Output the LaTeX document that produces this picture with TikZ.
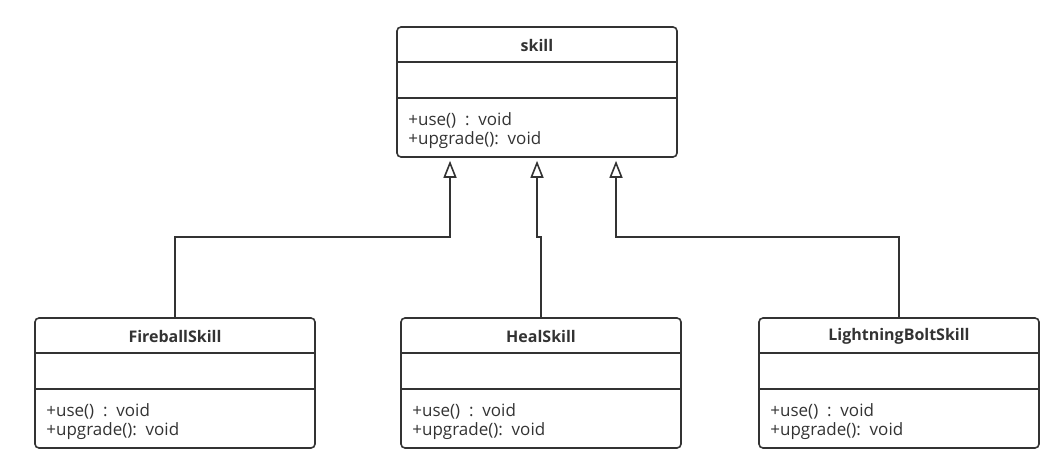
\documentclass[tikz,border=0pt]{standalone}
\usepackage{fontspec}
\setmainfont{Open Sans}
\usetikzlibrary{arrows.meta}
\definecolor{umlline}{HTML}{333333}
\tikzset{
  classbox/.style={draw=umlline, line width=1.6pt, rounded corners=4pt, minimum width=280pt, minimum height=130pt, inner sep=0pt},
  classname/.style={font=\fontsize{16}{18}\selectfont\bfseries, text=umlline},
  member/.style={font=\fontsize{17}{19.5}\selectfont, text=umlline, align=left, anchor=north west, inner sep=0pt},
  inherit/.style={draw=umlline, line width=1.6pt, -{Triangle[open, width=13pt, length=17pt]}, shorten >=3pt}
}
\newcommand{\umlclass}[3]{%
  \node[classbox] (#1) at (#2) {};
  \node[classname] (#1name) at ([yshift=-19pt]#1.north) {#3};
  \draw[umlline, line width=1.6pt] ([yshift=-36pt]#1.north west) -- ([yshift=-36pt]#1.north east);
  \draw[umlline, line width=1.6pt] ([yshift=-72pt]#1.north west) -- ([yshift=-72pt]#1.north east);
  \node[member] (#1ops) at ([xshift=12pt,yshift=-86pt]#1.north west) {+use()\ \ :\ \ void\\+upgrade():\ \ void};
}
\begin{document}
\begin{tikzpicture}[x=1pt, y=-1pt]
  \useasboundingbox (0,0) rectangle (1062,473);
  % base class
  \umlclass{skill}{537,92}{skill}
  % subclasses
  \umlclass{fireball}{175,383}{FireballSkill}
  \umlclass{heal}{541,383}{HealSkill}
  \umlclass{lightning}{899,383}{LightningBoltSkill}
  % generalisation
  \draw[inherit] (fireball.north) -- ++(0,-80) -| ([xshift=-87pt]skill.south);
  \draw[inherit] (heal.north) -- ++(0,-80) -| (skill.south);
  \draw[inherit] (lightning.north) -- ++(0,-80) -| ([xshift=79pt]skill.south);
\end{tikzpicture}
\end{document}
